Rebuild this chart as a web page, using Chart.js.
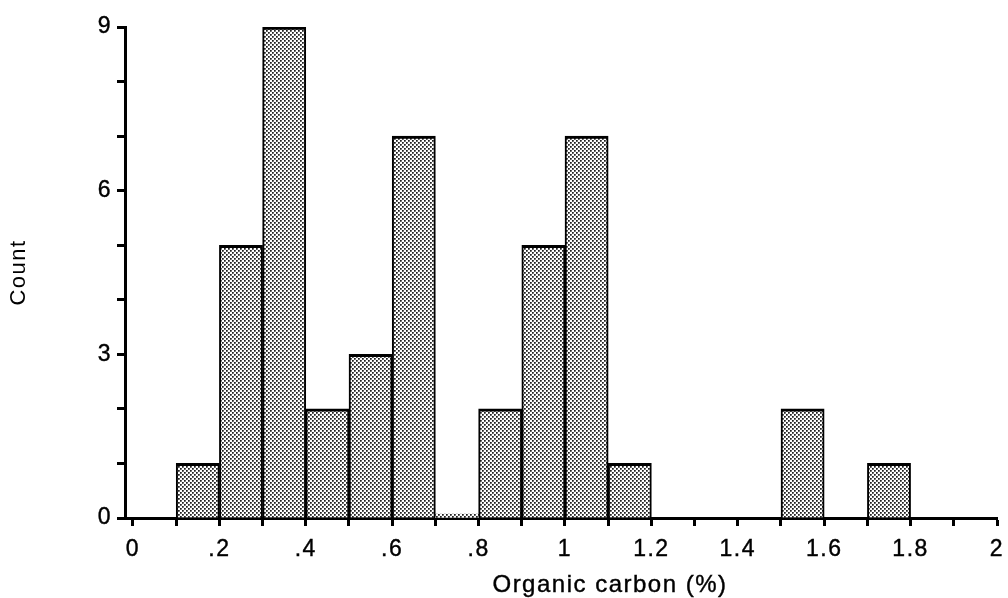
<!DOCTYPE html>
<html lang="en">
<head>
<meta charset="UTF-8">
<title>Organic carbon histogram</title>
<script src="https://cdn.jsdelivr.net/npm/chart.js@4.4.0/dist/chart.umd.min.js"></script>
<style>
  body { margin: 0; background: #fff; }
  #histChart { display: block; }
</style>
</head>
<body>
<canvas id="histChart" width="1008" height="598"></canvas>
<script>
// histogram bins, 0.1 wide, given by their centres
var binCenters = [0.05, 0.15, 0.25, 0.35, 0.45, 0.55, 0.65, 0.75, 0.85, 0.95,
                  1.05, 1.15, 1.25, 1.35, 1.45, 1.55, 1.65, 1.75, 1.85, 1.95];
var binCounts  = [0, 1, 5, 9, 2, 3, 7, 0, 2, 5,
                  7, 1, 0, 0, 0, 2, 0, 1, 0, 0];

// the empty .7-.8 bin shows as a thin dotted strip along the axis
var stripCenters = [0.75];
var stripCounts  = [0];

var xTicks  = [0, 0.1, 0.2, 0.3, 0.4, 0.5, 0.6, 0.7, 0.8, 0.9, 1,
               1.1, 1.2, 1.3, 1.4, 1.5, 1.6, 1.7, 1.8, 1.9, 2];
var xLabels = ['0', '', '.2', '', '.4', '', '.6', '', '.8', '', '1',
               '', '1.2', '', '1.4', '', '1.6', '', '1.8', '', '2'];
var yTicks  = [0, 1, 2, 3, 4, 5, 6, 7, 8, 9];
var yLabels = ['0', '', '', '3', '', '', '6', '', '', '9'];

var ink = '#000';
var family = '"Liberation Sans", Arial, Helvetica, sans-serif';

function toPoints(xs, ys) {
    var pts = [];
    for (var i = 0; i < xs.length; i++) {
        pts.push({ x: xs[i], y: ys[i] });
    }
    return pts;
}

// small stipple tile used as the bar fill
function dotPattern(ctx) {
    var tile = document.createElement('canvas');
    tile.width = 4;
    tile.height = 4;
    var t = tile.getContext('2d');
    t.fillStyle = '#fff';
    t.fillRect(0, 0, 4, 4);
    [[0, 0], [2, 2]].forEach(function (p) {
        t.fillStyle = '#222'; t.fillRect(p[0], p[1], 1, 1);
        t.fillStyle = '#555'; t.fillRect(p[0] + 1, p[1], 1, 1);
        t.fillRect(p[0], p[1] + 1, 1, 1);
        t.fillStyle = '#888'; t.fillRect(p[0] + 1, p[1] + 1, 1, 1);
    });
    return ctx.createPattern(tile, 'repeat');
}

// wider letter spacing for all text, plus the x axis caption
var textPlugin = {
    id: 'textTweaks',
    beforeDraw: function (chart) {
        chart.ctx.letterSpacing = '1.5px';
    },
    afterDraw: function (chart) {
        var ctx = chart.ctx;
        ctx.save();
        ctx.letterSpacing = '1.5px';
        ctx.font = '24px ' + family;
        ctx.fillStyle = ink;
        ctx.strokeStyle = ink;
        ctx.lineWidth = 0.4;
        ctx.textAlign = 'center';
        ctx.textBaseline = 'middle';
        ctx.fillText('Organic carbon (%)', 610, 585);
        ctx.strokeText('Organic carbon (%)', 610, 585);
        ctx.restore();
    }
};

Chart.defaults.font.family = family;
Chart.defaults.color = ink;

var canvas = document.getElementById('histChart');
var ctx = canvas.getContext('2d');
var fill = dotPattern(ctx);

new Chart(canvas, {
    type: 'bar',
    data: {
        datasets: [{
            label: 'Count',
            data: toPoints(binCenters, binCounts),
            backgroundColor: fill,
            borderColor: ink,
            borderWidth: { top: 3, left: 2, right: 2, bottom: 0 },
            borderSkipped: false,
            barPercentage: 1,
            categoryPercentage: 1
        }, {
            label: 'empty bin',
            data: toPoints(stripCenters, stripCounts),
            backgroundColor: fill,
            borderWidth: 0,
            grouped: false,
            minBarLength: 4,
            barPercentage: 1,
            categoryPercentage: 1
        }]
    },
    options: {
        responsive: false,
        animation: false,
        devicePixelRatio: 1,
        layout: { padding: { top: 27, right: 11, left: 0, bottom: 0 } },
        plugins: {
            legend: { display: false },
            tooltip: { enabled: false }
        },
        scales: {
            x: {
                type: 'linear',
                min: -0.0185,
                max: 2,
                offset: false,
                z: 1,
                afterBuildTicks: function (scale) {
                    scale.ticks = xTicks.map(function (v) { return { value: v }; });
                },
                afterFit: function (scale) {
                    scale.height = 80;
                    // end labels may overhang; keep the plot edge fixed
                    scale.paddingLeft = 0;
                    scale.paddingRight = 0;
                },
                ticks: {
                    autoSkip: false,
                    maxRotation: 0,
                    padding: 10,
                    font: { size: 23 },
                    textStrokeColor: ink,
                    textStrokeWidth: 0.4,
                    callback: function (v, i) { return xLabels[i]; }
                },
                grid: {
                    offset: false,
                    drawOnChartArea: false,
                    tickLength: 8,
                    tickWidth: 3,
                    tickColor: ink
                },
                border: { display: true, color: ink, width: 3 }
            },
            y: {
                min: 0,
                max: 9,
                z: 1,
                afterBuildTicks: function (scale) {
                    scale.ticks = yTicks.map(function (v) { return { value: v }; });
                },
                afterFit: function (scale) { scale.width = 125; },
                ticks: {
                    autoSkip: false,
                    padding: 5,
                    font: { size: 23 },
                    textStrokeColor: ink,
                    textStrokeWidth: 0.4,
                    callback: function (v, i) { return yLabels[i]; }
                },
                grid: {
                    drawOnChartArea: false,
                    tickLength: 8,
                    tickWidth: 3,
                    tickColor: ink
                },
                border: { display: true, color: ink, width: 3 },
                title: {
                    display: true,
                    text: 'Count',
                    font: { size: 22 },
                    padding: { top: 6, bottom: 0 }
                }
            }
        }
    },
    plugins: [textPlugin]
});
</script>
</body>
</html>
